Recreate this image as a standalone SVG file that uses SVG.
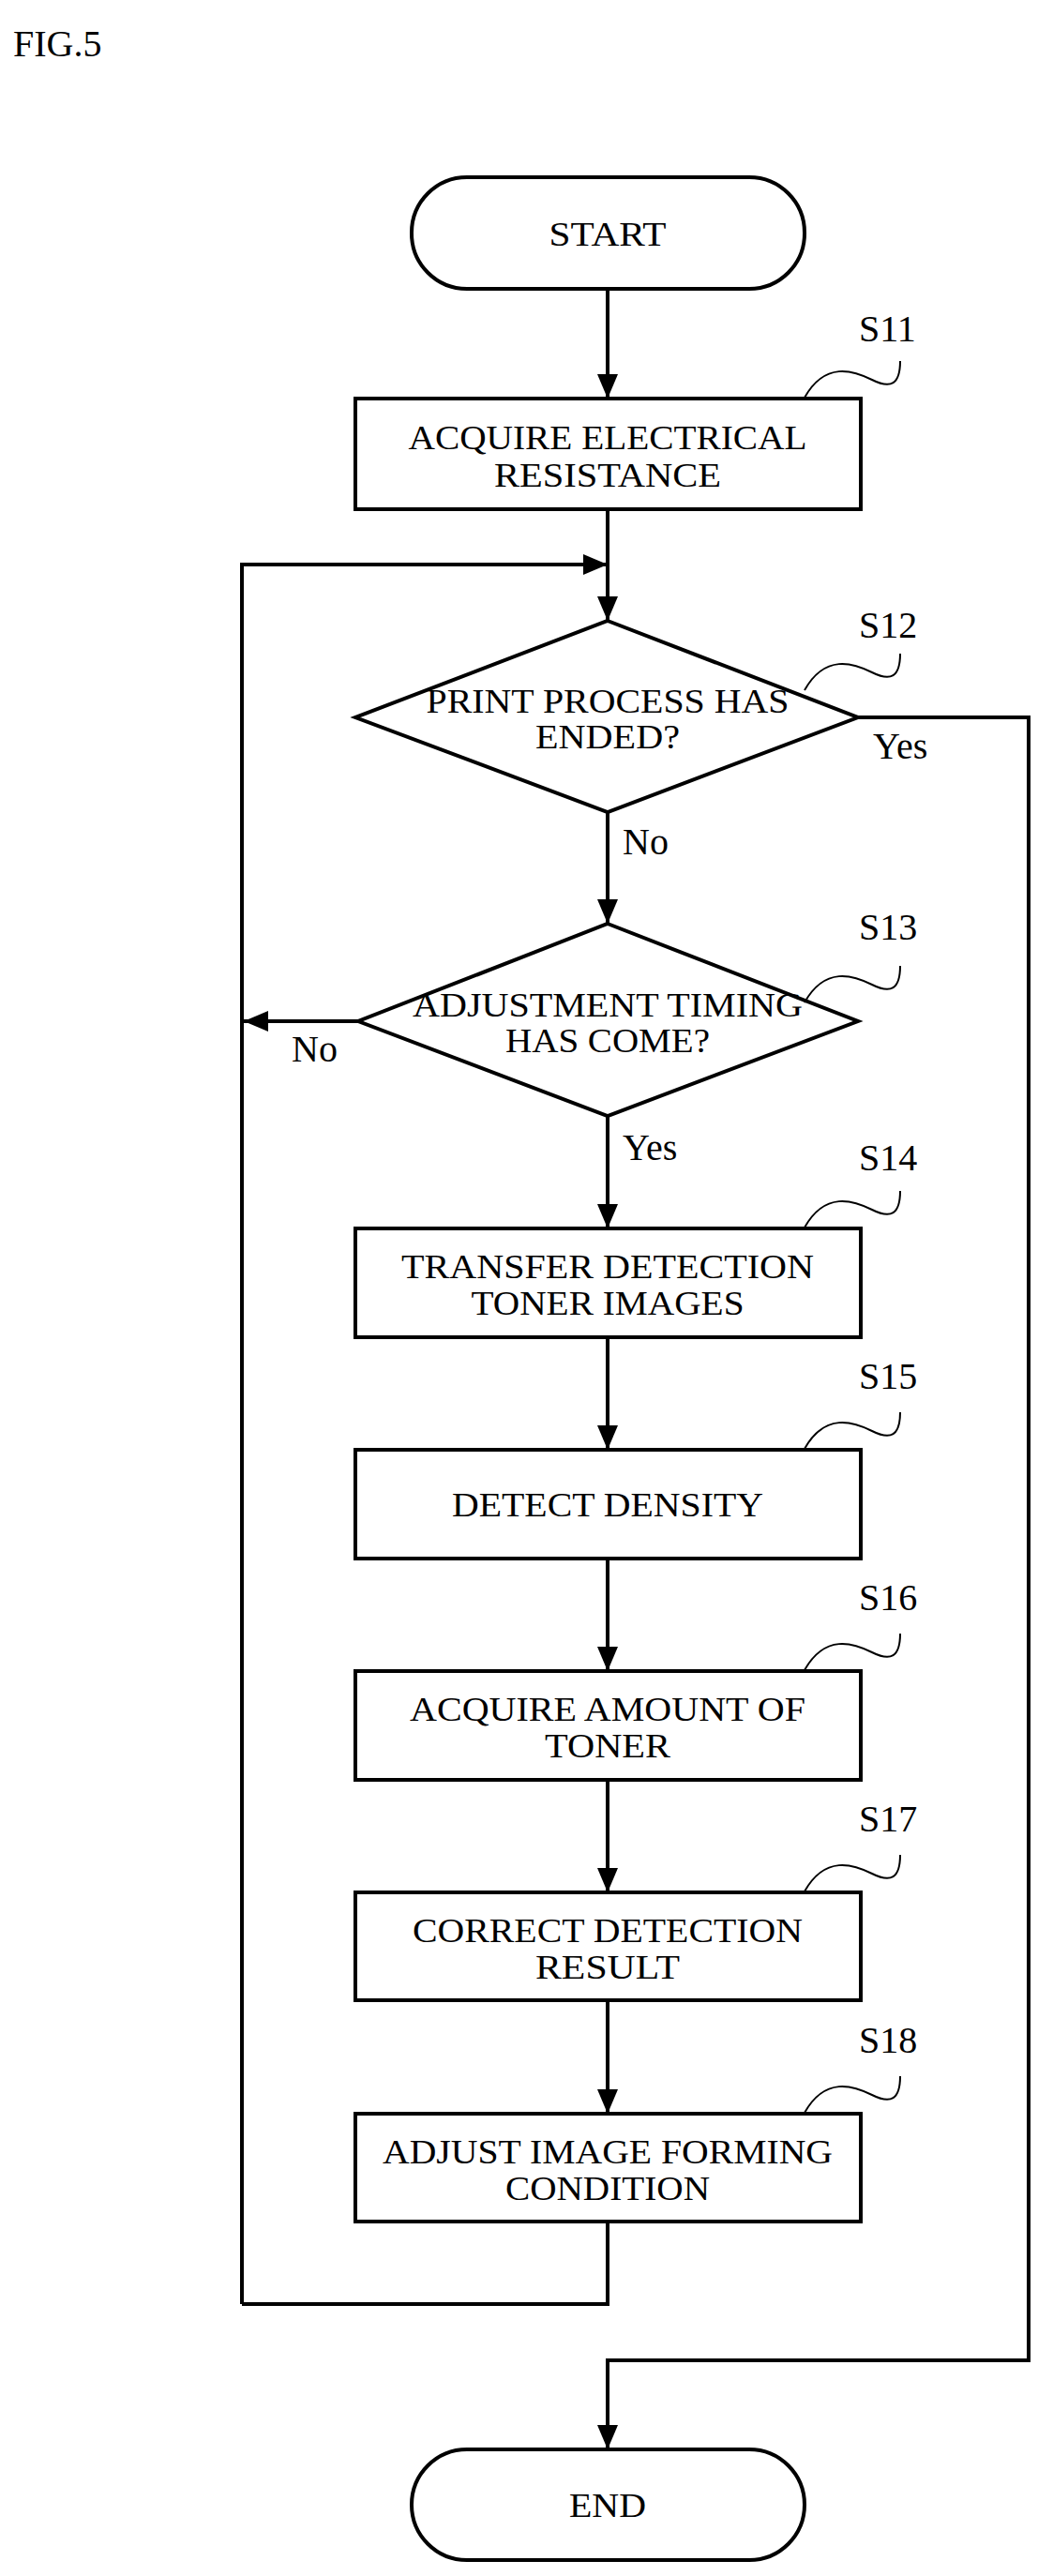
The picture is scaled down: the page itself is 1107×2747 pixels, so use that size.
<svg xmlns="http://www.w3.org/2000/svg" width="1107" height="2747" viewBox="0 0 1107 2747">
<style>
.s{fill:#fff;stroke:#000;stroke-width:4}
.t{font-family:"Liberation Serif",serif;font-size:36px;text-anchor:middle;fill:#000}
.l{font-family:"Liberation Serif",serif;font-size:40px;fill:#000}
.c{fill:none;stroke:#000;stroke-width:4}
.q{fill:none;stroke:#000;stroke-width:2}
</style>
<defs><marker id="a" markerWidth="10" markerHeight="10" refX="9" refY="5" orient="auto" markerUnits="userSpaceOnUse" viewBox="0 0 10 10"><path d="M0,0L10,5L0,10z" fill="#000"/></marker>
<marker id="A" markerWidth="26" markerHeight="26" refX="26" refY="13" orient="auto" markerUnits="userSpaceOnUse"><path d="M0,2L26,13L0,24z" fill="#000"/></marker></defs>
<rect width="1107" height="2747" fill="#fff"/>
<text x="14" y="60" class="l" font-size="44">FIG.5</text>
<g id="connectors">
<path class="c" d="M648,308V425" marker-end="url(#A)"/>
<path class="c" d="M648,543V662" marker-end="url(#A)"/>
<path class="c" d="M258,2457V602H648" marker-end="url(#A)"/>
<path class="c" d="M648,866V985" marker-end="url(#A)"/>
<path class="c" d="M382,1089H260" marker-end="url(#A)"/>
<path class="c" d="M648,1190V1310" marker-end="url(#A)"/>
<path class="c" d="M648,1426V1546" marker-end="url(#A)"/>
<path class="c" d="M648,1662V1782" marker-end="url(#A)"/>
<path class="c" d="M648,1898V2018" marker-end="url(#A)"/>
<path class="c" d="M648,2133V2254" marker-end="url(#A)"/>
<path class="c" d="M648,2369V2457H258"/>
<path class="c" d="M915,765H1097V2517H648V2612" marker-end="url(#A)"/>
<text x="931" y="809" class="l">Yes</text>
<text x="664" y="911" class="l">No</text>
<text x="311" y="1132" class="l">No</text>
<text x="664" y="1237" class="l">Yes</text>
</g>
<g id="start"><rect class="s" x="439" y="189" width="419" height="119" rx="59"/><text class="t" x="648" y="262" textLength="125" lengthAdjust="spacingAndGlyphs">START</text></g>
<g id="s11"><rect class="s" x="379" y="425" width="539" height="118"/>
<text class="t" x="648" y="479" textLength="425" lengthAdjust="spacingAndGlyphs">ACQUIRE ELECTRICAL</text>
<text class="t" x="648" y="519" textLength="242" lengthAdjust="spacingAndGlyphs">RESISTANCE</text>
<path class="q" d="M858,424C880,385 910,395 930,405S960,410 960,385"/><text x="916" y="364" class="l">S11</text></g>
<g id="s12"><path class="s" d="M648,662L915,765L648,866L379,765z"/>
<text class="t" x="648" y="760" textLength="387" lengthAdjust="spacingAndGlyphs">PRINT PROCESS HAS</text>
<text class="t" x="648" y="798" textLength="154" lengthAdjust="spacingAndGlyphs">ENDED?</text>
<path class="q" d="M858,736C880,697 910,707 930,717S960,722 960,697"/><text x="916" y="680" class="l">S12</text></g>
<g id="s13"><path class="s" d="M648,985L915,1089L648,1190L382,1089z"/>
<text class="t" x="648" y="1084" textLength="416" lengthAdjust="spacingAndGlyphs">ADJUSTMENT TIMING</text>
<text class="t" x="648" y="1122" textLength="218" lengthAdjust="spacingAndGlyphs">HAS COME?</text>
<path class="q" d="M858,1069C880,1030 910,1040 930,1050S960,1055 960,1030"/><text x="916" y="1002" class="l">S13</text></g>
<g id="s14"><rect class="s" x="379" y="1310" width="539" height="116"/>
<text class="t" x="648" y="1363" textLength="440" lengthAdjust="spacingAndGlyphs">TRANSFER DETECTION</text>
<text class="t" x="648" y="1402" textLength="291" lengthAdjust="spacingAndGlyphs">TONER IMAGES</text>
<path class="q" d="M858,1309C880,1270 910,1280 930,1290S960,1295 960,1270"/><text x="916" y="1248" class="l">S14</text></g>
<g id="s15"><rect class="s" x="379" y="1546" width="539" height="116"/>
<text class="t" x="648" y="1617" textLength="332" lengthAdjust="spacingAndGlyphs">DETECT DENSITY</text>
<path class="q" d="M858,1545C880,1506 910,1516 930,1526S960,1531 960,1506"/><text x="916" y="1481" class="l">S15</text></g>
<g id="s16"><rect class="s" x="379" y="1782" width="539" height="116"/>
<text class="t" x="648" y="1835" textLength="422" lengthAdjust="spacingAndGlyphs">ACQUIRE AMOUNT OF</text>
<text class="t" x="648" y="1874" textLength="134" lengthAdjust="spacingAndGlyphs">TONER</text>
<path class="q" d="M858,1781C880,1742 910,1752 930,1762S960,1767 960,1742"/><text x="916" y="1717" class="l">S16</text></g>
<g id="s17"><rect class="s" x="379" y="2018" width="539" height="115"/>
<text class="t" x="648" y="2071" textLength="416" lengthAdjust="spacingAndGlyphs">CORRECT DETECTION</text>
<text class="t" x="648" y="2110" textLength="154" lengthAdjust="spacingAndGlyphs">RESULT</text>
<path class="q" d="M858,2017C880,1978 910,1988 930,1998S960,2003 960,1978"/><text x="916" y="1953" class="l">S17</text></g>
<g id="s18"><rect class="s" x="379" y="2254" width="539" height="115"/>
<text class="t" x="648" y="2307" textLength="480" lengthAdjust="spacingAndGlyphs">ADJUST IMAGE FORMING</text>
<text class="t" x="648" y="2346" textLength="218" lengthAdjust="spacingAndGlyphs">CONDITION</text>
<path class="q" d="M858,2253C880,2214 910,2224 930,2234S960,2239 960,2214"/><text x="916" y="2189" class="l">S18</text></g>
<g id="end"><rect class="s" x="439" y="2612" width="419" height="118" rx="59"/><text class="t" x="648" y="2684" textLength="82" lengthAdjust="spacingAndGlyphs">END</text></g>
</svg>
